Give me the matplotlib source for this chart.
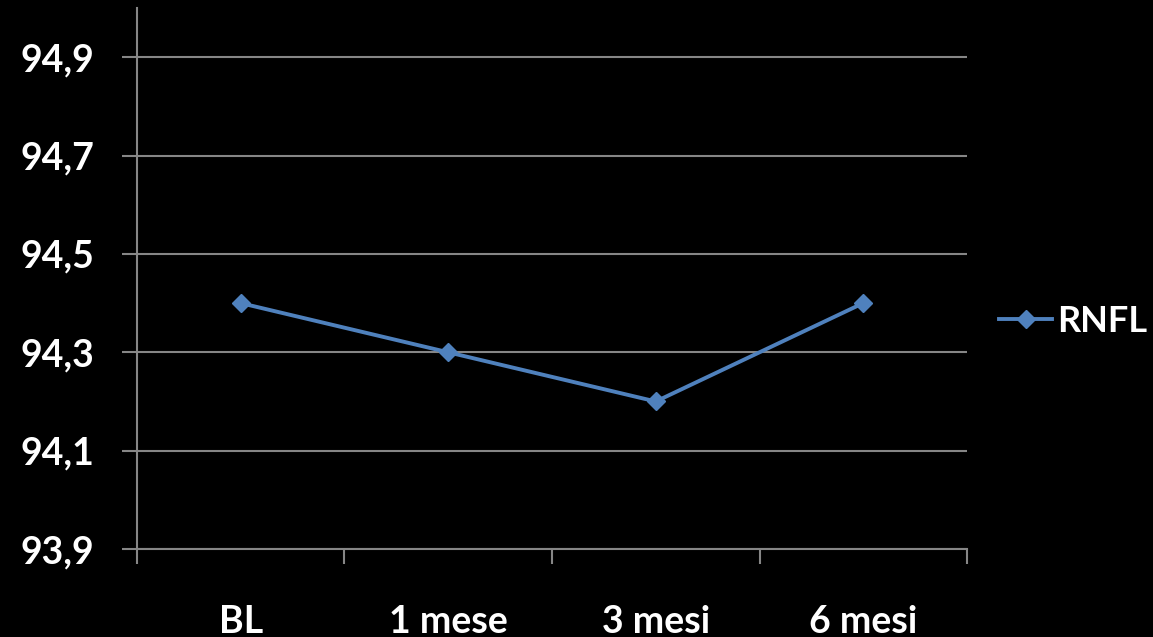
import matplotlib
matplotlib.use('Agg')
import matplotlib.pyplot as plt
from matplotlib.ticker import FuncFormatter

# RNFL thickness over follow-up
visits = ['BL', '1 mese', '3 mesi', '6 mesi']
rnfl = [94.4, 94.3, 94.2, 94.4]
yticks = [93.9, 94.1, 94.3, 94.5, 94.7, 94.9]

plt.rcParams['font.family'] = ['Lato', 'DejaVu Sans']
plt.rcParams['font.weight'] = 'bold'

grey = '#868686'
blue = '#4F81BD'

fig = plt.figure(figsize=(11.53, 6.37), dpi=100, facecolor='black')
ax = fig.add_axes([0.1188, 0.1381, 0.7199, 0.8493])
ax.set_facecolor('black')

x = list(range(len(visits)))
ax.plot(x, rnfl, color=blue, lw=2.8, marker='D', markersize=9, label='RNFL')

ax.set_xlim(-0.5, len(visits) - 0.5)
ax.set_ylim(93.9, 95.0)
ax.set_yticks(yticks)
ax.yaxis.set_major_formatter(FuncFormatter(lambda v, p: f'{v:.1f}'.replace('.', ',')))
ax.set_xticks(x)
ax.set_xticklabels(visits)
ax.set_xticks([i - 0.5 for i in range(len(visits) + 1)], minor=True)

ax.grid(axis='y', color=grey, lw=1.5)
ax.set_axisbelow(True)
for side in ['top', 'right']:
    ax.spines[side].set_visible(False)
for side in ['left', 'bottom']:
    ax.spines[side].set_color(grey)
    ax.spines[side].set_linewidth(1.5)

ax.tick_params(axis='y', colors=grey, length=11, width=1.5, pad=20,
               labelcolor='white', labelsize=27)
ax.tick_params(axis='x', which='major', length=0, pad=40,
               labelcolor='white', labelsize=27)
ax.tick_params(axis='x', which='minor', length=11, width=1.5, color=grey)

# legend to the right of the plot area
leg = ax.legend(loc='center left', bbox_to_anchor=(1.039, 0.421), frameon=False,
                fontsize=26, handlelength=1.45, handletextpad=0.15,
                borderpad=0, borderaxespad=0, labelcolor='white')

fig.savefig('out.png', dpi=100, facecolor='black')
